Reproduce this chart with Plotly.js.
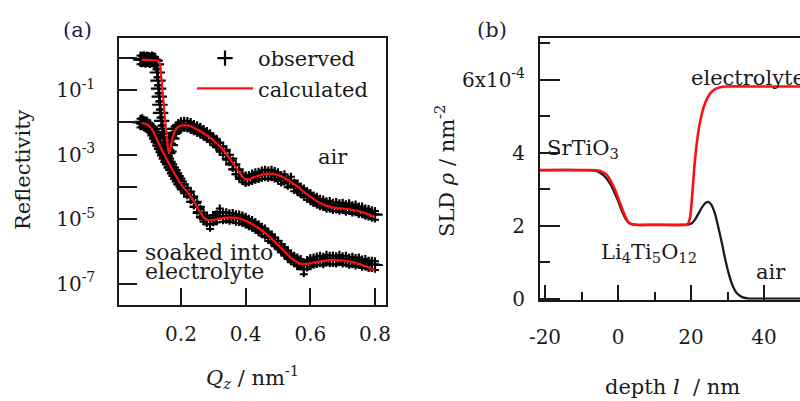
<!DOCTYPE html>
<html>
<head>
<meta charset="utf-8">
<script src="https://cdn.plot.ly/plotly-3.0.1.min.js"></script>
<style>html,body{margin:0;padding:0;background:#fff;}#chart{width:800px;height:401px;}</style>
</head>
<body>
<div id="chart"></div>
<script>
// ---------- Panel (a): reflectivity (values stored as log10 R) ----------
const qObsAir = [0.075,0.08,0.085,0.09,0.095,0.10,0.105,0.11,0.115,0.12,0.124,0.127,0.129,0.131,0.133,0.135,0.137,0.140,0.143,0.147,0.151,0.155,0.159,0.163,0.167,0.172,0.178,0.185,0.192,0.20,0.21,0.22,0.23,0.24,0.25,0.26,0.27,0.28,0.29,0.30,0.31,0.32,0.33,0.34,0.35,0.36,0.37,0.38,0.39,0.40,0.41,0.42,0.43,0.44,0.45,0.46,0.47,0.48,0.49,0.50,0.51,0.52,0.53,0.54,0.55,0.56,0.57,0.58,0.59,0.60,0.61,0.62,0.63,0.64,0.65,0.66,0.67,0.68,0.69,0.70,0.71,0.72,0.73,0.74,0.75,0.76,0.77,0.78,0.79,0.80];
const logObsAir = [-0.04,-0.05,-0.03,-0.06,-0.04,-0.05,-0.07,-0.04,-0.06,-0.08,-0.2,-0.45,-0.7,-0.95,-1.2,-1.45,-1.7,-1.95,-2.2,-2.45,-2.7,-2.85,-2.95,-2.9,-2.7,-2.5,-2.32,-2.2,-2.13,-2.08,-2.06,-2.07,-2.1,-2.16,-2.2,-2.25,-2.32,-2.38,-2.45,-2.55,-2.62,-2.75,-2.85,-3.0,-3.12,-3.3,-3.45,-3.6,-3.7,-3.76,-3.74,-3.7,-3.66,-3.64,-3.6,-3.58,-3.6,-3.58,-3.62,-3.66,-3.75,-3.72,-3.85,-3.8,-3.98,-4.02,-4.1,-4.16,-4.25,-4.3,-4.38,-4.42,-4.48,-4.5,-4.56,-4.55,-4.6,-4.58,-4.62,-4.6,-4.65,-4.62,-4.68,-4.66,-4.72,-4.72,-4.78,-4.8,-4.84,-4.86];

const qObsEl = [0.075,0.08,0.085,0.09,0.095,0.10,0.105,0.11,0.115,0.12,0.125,0.13,0.135,0.14,0.145,0.15,0.155,0.16,0.165,0.17,0.175,0.18,0.185,0.19,0.195,0.20,0.21,0.22,0.23,0.24,0.25,0.26,0.27,0.28,0.29,0.30,0.31,0.32,0.33,0.34,0.35,0.36,0.37,0.38,0.39,0.40,0.41,0.42,0.43,0.44,0.45,0.46,0.47,0.48,0.49,0.50,0.51,0.52,0.53,0.54,0.55,0.56,0.57,0.58,0.59,0.60,0.61,0.62,0.63,0.64,0.65,0.66,0.67,0.68,0.69,0.70,0.71,0.72,0.73,0.74,0.75,0.76,0.77,0.78,0.79,0.80];
const logObsEl = [-2.0,-1.98,-2.03,-2.05,-2.06,-2.12,-2.15,-2.22,-2.3,-2.4,-2.5,-2.6,-2.72,-2.82,-2.92,-3.02,-3.12,-3.22,-3.3,-3.4,-3.48,-3.58,-3.66,-3.74,-3.83,-3.92,-4.04,-4.14,-4.3,-4.46,-4.62,-4.8,-4.92,-5.0,-5.15,-4.98,-4.95,-4.78,-4.92,-4.9,-4.93,-4.92,-4.96,-4.97,-5.0,-5.04,-5.1,-5.14,-5.2,-5.27,-5.35,-5.4,-5.52,-5.58,-5.68,-5.78,-5.88,-5.98,-6.08,-6.18,-6.25,-6.3,-6.35,-6.55,-6.38,-6.32,-6.3,-6.27,-6.25,-6.28,-6.22,-6.25,-6.24,-6.26,-6.22,-6.26,-6.25,-6.3,-6.28,-6.32,-6.3,-6.36,-6.35,-6.4,-6.4,-6.42];

const qCalcAir = [0.078,0.09,0.10,0.11,0.12,0.128,0.132,0.135,0.138,0.142,0.146,0.150,0.154,0.158,0.161,0.164,0.167,0.171,0.176,0.182,0.19,0.20,0.212,0.225,0.24,0.26,0.28,0.30,0.32,0.34,0.36,0.38,0.39,0.40,0.41,0.42,0.44,0.46,0.48,0.50,0.52,0.54,0.56,0.58,0.60,0.62,0.64,0.66,0.68,0.70,0.72,0.74,0.76,0.78,0.80];
const logCalcAir = [-0.06,-0.06,-0.06,-0.065,-0.07,-0.08,-0.1,-0.2,-0.45,-0.9,-1.35,-1.8,-2.25,-2.65,-2.88,-2.95,-2.82,-2.6,-2.4,-2.25,-2.15,-2.1,-2.08,-2.1,-2.16,-2.27,-2.4,-2.55,-2.74,-2.97,-3.25,-3.55,-3.68,-3.76,-3.76,-3.72,-3.65,-3.6,-3.59,-3.63,-3.72,-3.85,-3.98,-4.15,-4.3,-4.44,-4.54,-4.61,-4.65,-4.67,-4.69,-4.73,-4.78,-4.85,-4.93];

const qCalcEl = [0.078,0.09,0.10,0.11,0.12,0.13,0.14,0.15,0.16,0.17,0.18,0.19,0.20,0.21,0.22,0.23,0.24,0.25,0.26,0.27,0.28,0.29,0.30,0.32,0.34,0.36,0.38,0.40,0.42,0.44,0.46,0.48,0.50,0.52,0.54,0.56,0.58,0.60,0.62,0.64,0.66,0.68,0.70,0.72,0.74,0.76,0.78,0.80];
const logCalcEl = [-2.02,-2.04,-2.1,-2.2,-2.4,-2.62,-2.83,-3.02,-3.22,-3.4,-3.58,-3.75,-3.92,-4.05,-4.15,-4.3,-4.45,-4.62,-4.8,-4.94,-5.02,-5.04,-5.02,-4.98,-4.95,-4.95,-4.98,-5.05,-5.15,-5.28,-5.43,-5.6,-5.8,-6.0,-6.2,-6.34,-6.39,-6.37,-6.32,-6.29,-6.27,-6.27,-6.28,-6.31,-6.35,-6.42,-6.5,-6.6];

const qTickVals = [0.2,0.4,0.6,0.8];
const qTickText = ['0.2','0.4','0.6','0.8'];
const rTickVals = [1,1e-1,1e-2,1e-3,1e-4,1e-5,1e-6,1e-7];
const rTickText = ['','10<sup>-1</sup>','','10<sup>-3</sup>','','10<sup>-5</sup>','','10<sup>-7</sup>'];

// ---------- Panel (b): SLD profiles (units of 1e-4 nm^-2) ----------
const depthAir = [-21.4,-10,-6,-4,-2,0,1,2,3,5,10,18,20,21,22,23,24,24.7,25.5,26.5,27.5,28.5,29.5,30.5,31.5,32.5,34,36,40,50];
const sldAir = [3.52,3.52,3.50,3.38,3.12,2.68,2.42,2.2,2.07,2.02,2.02,2.02,2.05,2.15,2.32,2.5,2.62,2.65,2.58,2.35,1.95,1.5,1.02,0.62,0.33,0.15,0.04,0.0,0.0,0.0];
const depthEl = [-21.4,-10,-5,-3,-1,1,2,3,4,6,10,18,19,19.7,20.3,21,21.7,22.5,23.5,24.5,26,28,30,40,50];
const sldEl = [3.52,3.52,3.50,3.38,3.02,2.5,2.25,2.08,2.03,2.02,2.02,2.02,2.03,2.2,2.8,3.7,4.35,4.85,5.25,5.5,5.7,5.79,5.81,5.81,5.81];
const depthTickVals = [-20,0,20,40];
const depthTickText = ['-20','0','20','40'];
const sldTickVals = [0,2,4,6];
const sldTickText = ['0','2','4','6x10<sup>-4</sup>'];

const FONT = 'DejaVu Serif';
const INK = '#1a1a1a';
const RED = '#ff1010';
const toR = a => a.map(v => Math.pow(10, v));

const obsStyle = {
  mode:'markers',
  marker:{symbol:'cross-thin', size:11, color:'#000', line:{width:2.2, color:'#000'}},
  error_y:{type:'percent', value:30, color:'#000', thickness:2, width:4},
  xaxis:'x', yaxis:'y', legendgroup:'obs'
};

const traces = [
  Object.assign({x:qObsAir, y:toR(logObsAir), name:'observed', showlegend:true}, obsStyle),
  Object.assign({x:qObsEl, y:toR(logObsEl), name:'observed', showlegend:false}, obsStyle),
  {x:qCalcAir, y:toR(logCalcAir), mode:'lines', name:'calculated', line:{color:RED, width:2.2, shape:'spline', smoothing:0.6}, xaxis:'x', yaxis:'y', legendgroup:'calc', showlegend:true},
  {x:qCalcEl, y:toR(logCalcEl), mode:'lines', name:'calculated', line:{color:RED, width:2.2, shape:'spline', smoothing:0.6}, xaxis:'x', yaxis:'y', legendgroup:'calc', showlegend:false},
  {x:depthAir, y:sldAir, mode:'lines', name:'air', line:{color:'#1a1a1a', width:2.3, shape:'spline', smoothing:0.8}, xaxis:'x2', yaxis:'y2', showlegend:false},
  {x:depthEl, y:sldEl, mode:'lines', name:'electrolyte', line:{color:RED, width:2.6, shape:'spline', smoothing:0.8}, xaxis:'x2', yaxis:'y2', showlegend:false}
];

const axBase = {showline:true, linewidth:2, linecolor:INK, ticks:'inside', tickwidth:2, tickcolor:INK,
  showgrid:false, zeroline:false, tickfont:{family:FONT, size:20, color:INK}, tickmode:'array'};

const layout = {
  width:800, height:401,
  margin:{l:0, r:0, t:38, b:96},
  paper_bgcolor:'#fff', plot_bgcolor:'#fff',
  font:{family:FONT, color:INK},
  showlegend:true,
  legend:{x:192/800, y:1.0, xanchor:'left', yanchor:'top', bgcolor:'rgba(0,0,0,0)',
    font:{family:FONT, size:21, color:INK}, itemwidth:56, tracegroupgap:0},
  xaxis:Object.assign({}, axBase, {domain:[0.1491,0.4825], range:[0.0093,0.834], mirror:true,
    ticklen:17, tickvals:qTickVals, ticktext:qTickText, ticklabelstandoff:10, anchor:'y'}),
  yaxis:Object.assign({}, axBase, {domain:[0,1], type:'log', range:[-7.66,0.62], mirror:true,
    ticklen:18, tickvals:rTickVals, ticktext:rTickText, ticklabelstandoff:18, anchor:'x'}),
  xaxis2:Object.assign({}, axBase, {domain:[0.675,1], range:[-21.37,49.86], mirror:true,
    ticklen:15, tickvals:depthTickVals, ticktext:depthTickText, ticklabelstandoff:18, anchor:'y2',
    minor:{tickmode:'linear', tick0:-10, dtick:20, ticks:'inside', ticklen:8, tickwidth:2, tickcolor:INK}}),
  yaxis2:Object.assign({}, axBase, {domain:[0.02,1], range:[-0.03,7.14], mirror:false,
    ticklen:20, tickvals:sldTickVals, ticktext:sldTickText, ticklabelstandoff:9, anchor:'x2',
    minor:{tickmode:'linear', tick0:1, dtick:2, ticks:'inside', ticklen:10, tickwidth:2, tickcolor:INK}}),
  annotations:[
    {text:'(a)', xref:'paper', yref:'paper', x:77/800, y:1+(38-30)/267, xanchor:'center', yanchor:'middle', showarrow:false, font:{family:FONT, size:21, color:'#1c2340'}},
    {text:'(b)', xref:'paper', yref:'paper', x:492/800, y:1+(38-30)/267, xanchor:'center', yanchor:'middle', showarrow:false, font:{family:FONT, size:21, color:'#1c2340'}},
    {text:'Reflectivity', xref:'paper', yref:'paper', x:23/800, y:1-(170-38)/267, textangle:-90, xanchor:'center', yanchor:'middle', showarrow:false, font:{family:FONT, size:21, color:INK}},
    {text:'<i>Q<sub>z</sub></i> / nm<sup>-1</sup>', xref:'paper', yref:'paper', x:252/800, y:1-(377-38)/267, xanchor:'center', yanchor:'middle', showarrow:false, font:{family:FONT, size:21, color:INK}},
    {text:'SLD <i>ρ</i> / nm<sup>-2</sup>', xref:'paper', yref:'paper', x:445/800, y:1-(171-38)/267, textangle:-90, xanchor:'center', yanchor:'middle', showarrow:false, font:{family:FONT, size:21, color:INK}},
    {text:'depth <i>l</i>  / nm', xref:'paper', yref:'paper', x:672/800, y:1-(387-38)/267, xanchor:'center', yanchor:'middle', showarrow:false, font:{family:FONT, size:21, color:INK}},
    {text:'air', xref:'x', yref:'y', x:0.67, y:-3.06, xanchor:'center', yanchor:'middle', showarrow:false, font:{family:FONT, size:21, color:INK}},
    {text:'soaked into', xref:'x', yref:'y', x:0.083, y:-6.03, xanchor:'left', yanchor:'middle', showarrow:false, font:{family:FONT, size:22, color:INK}},
    {text:'electrolyte', xref:'x', yref:'y', x:0.083, y:-6.63, xanchor:'left', yanchor:'middle', showarrow:false, font:{family:FONT, size:22, color:INK}},
    {text:'SrTiO<sub>3</sub>', xref:'x2', yref:'y2', x:-19.9, y:4.1, xanchor:'left', yanchor:'middle', showarrow:false, font:{family:FONT, size:21, color:INK}},
    {text:'Li<sub>4</sub>Ti<sub>5</sub>O<sub>12</sub>', xref:'x2', yref:'y2', x:8.5, y:1.25, xanchor:'center', yanchor:'middle', showarrow:false, font:{family:FONT, size:21, color:INK}},
    {text:'air', xref:'x2', yref:'y2', x:41.9, y:0.72, xanchor:'center', yanchor:'middle', showarrow:false, font:{family:FONT, size:21, color:INK}},
    {text:'electrolyte', xref:'x2', yref:'y2', x:19.45, y:6.05, xanchor:'left', yanchor:'middle', showarrow:false, font:{family:FONT, size:21, color:INK}}
  ]
};

Plotly.newPlot('chart', traces, layout, {staticPlot:true, displayModeBar:false});
</script>
</body>
</html>
